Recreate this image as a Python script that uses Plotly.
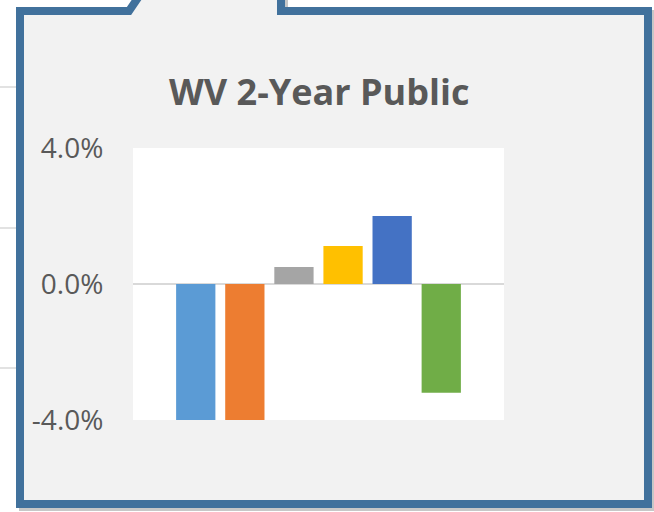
import plotly.graph_objects as go

# ---- data ----
series = ["Series 1", "Series 2", "Series 3", "Series 4", "Series 5", "Series 6"]
values = [-4.05, -4.05, 0.50, 1.12, 2.00, -3.20]
colors = ["#5B9BD5", "#ED7D31", "#A5A5A5", "#FFC000", "#4472C4", "#70AD47"]
tick_vals = [-4, 0, 4]
tick_text = ["-4.0%", "0.0%", "4.0%"]
title = "WV 2-Year Public"

W, H = 654, 512
L, R, T, B = 133, 150, 148, 92
PW, PH = W - L - R, H - T - B


def px(x):
    return (x - L) / PW


def py(y):
    return (H - B - y) / PH


def path(points):
    s = "M " + " L ".join(f"{px(x):.5f},{py(y):.5f}" for x, y in points) + " Z"
    return s


callout = [(20, 11), (129, 11), (146, -14), (281, -14), (281, 11),
           (648, 11), (648, 504), (20, 504)]
shadow = [(x + 3, y + 3) for x, y in callout]

shapes = []
# background chart gridlines peeking on the left
for gy in [87, 228, 368]:
    shapes.append(dict(type="line", xref="paper", yref="paper",
                       x0=px(0), x1=px(17), y0=py(gy), y1=py(gy),
                       line=dict(color="#D9D9D9", width=1.5), layer="below"))
# shadow
shapes.append(dict(type="path", xref="paper", yref="paper", path=path(shadow),
                   line=dict(color="rgba(0,0,0,0.22)", width=8),
                   fillcolor="rgba(0,0,0,0)", layer="below"))
# callout box
shapes.append(dict(type="path", xref="paper", yref="paper", path=path(callout),
                   line=dict(color="#41719C", width=8),
                   fillcolor="#F2F2F2", layer="below"))
# white plot area
shapes.append(dict(type="rect", xref="paper", yref="paper", x0=0, x1=1, y0=0, y1=1,
                   line=dict(width=0), fillcolor="#FFFFFF", layer="below"))

fig = go.Figure(go.Bar(
    x=series, y=values, marker=dict(color=colors, line=dict(width=0)),
    cliponaxis=False, hoverinfo="skip",
))

fig.update_layout(
    width=W, height=H,
    margin=dict(l=L, r=R, t=T, b=B, pad=0),
    paper_bgcolor="#FFFFFF", plot_bgcolor="#FFFFFF",
    showlegend=False, bargap=0.2,
    shapes=shapes,
    annotations=[dict(text=f"<b>{title}</b>", xref="paper", yref="paper",
                      x=0.5, y=py(91), xanchor="center", yanchor="middle",
                      showarrow=False,
                      font=dict(family="Open Sans", size=36, color="#595959"))],
    font=dict(family="Open Sans"),
)
fig.update_xaxes(range=[-1.278, 6.278], showticklabels=False, showgrid=False,
                 zeroline=False, showline=False, ticks="")
fig.update_yaxes(range=[-4, 4], tickvals=tick_vals, ticktext=tick_text,
                 showgrid=True, gridcolor="#D9D9D9", gridwidth=1.5,
                 zeroline=True, zerolinecolor="#D9D9D9", zerolinewidth=1.5,
                 showline=False, ticks="outside", ticklen=23,
                 tickcolor="rgba(0,0,0,0)",
                 tickfont=dict(family="Open Sans", size=28, color="#595959"))

fig.write_html("out.html")
